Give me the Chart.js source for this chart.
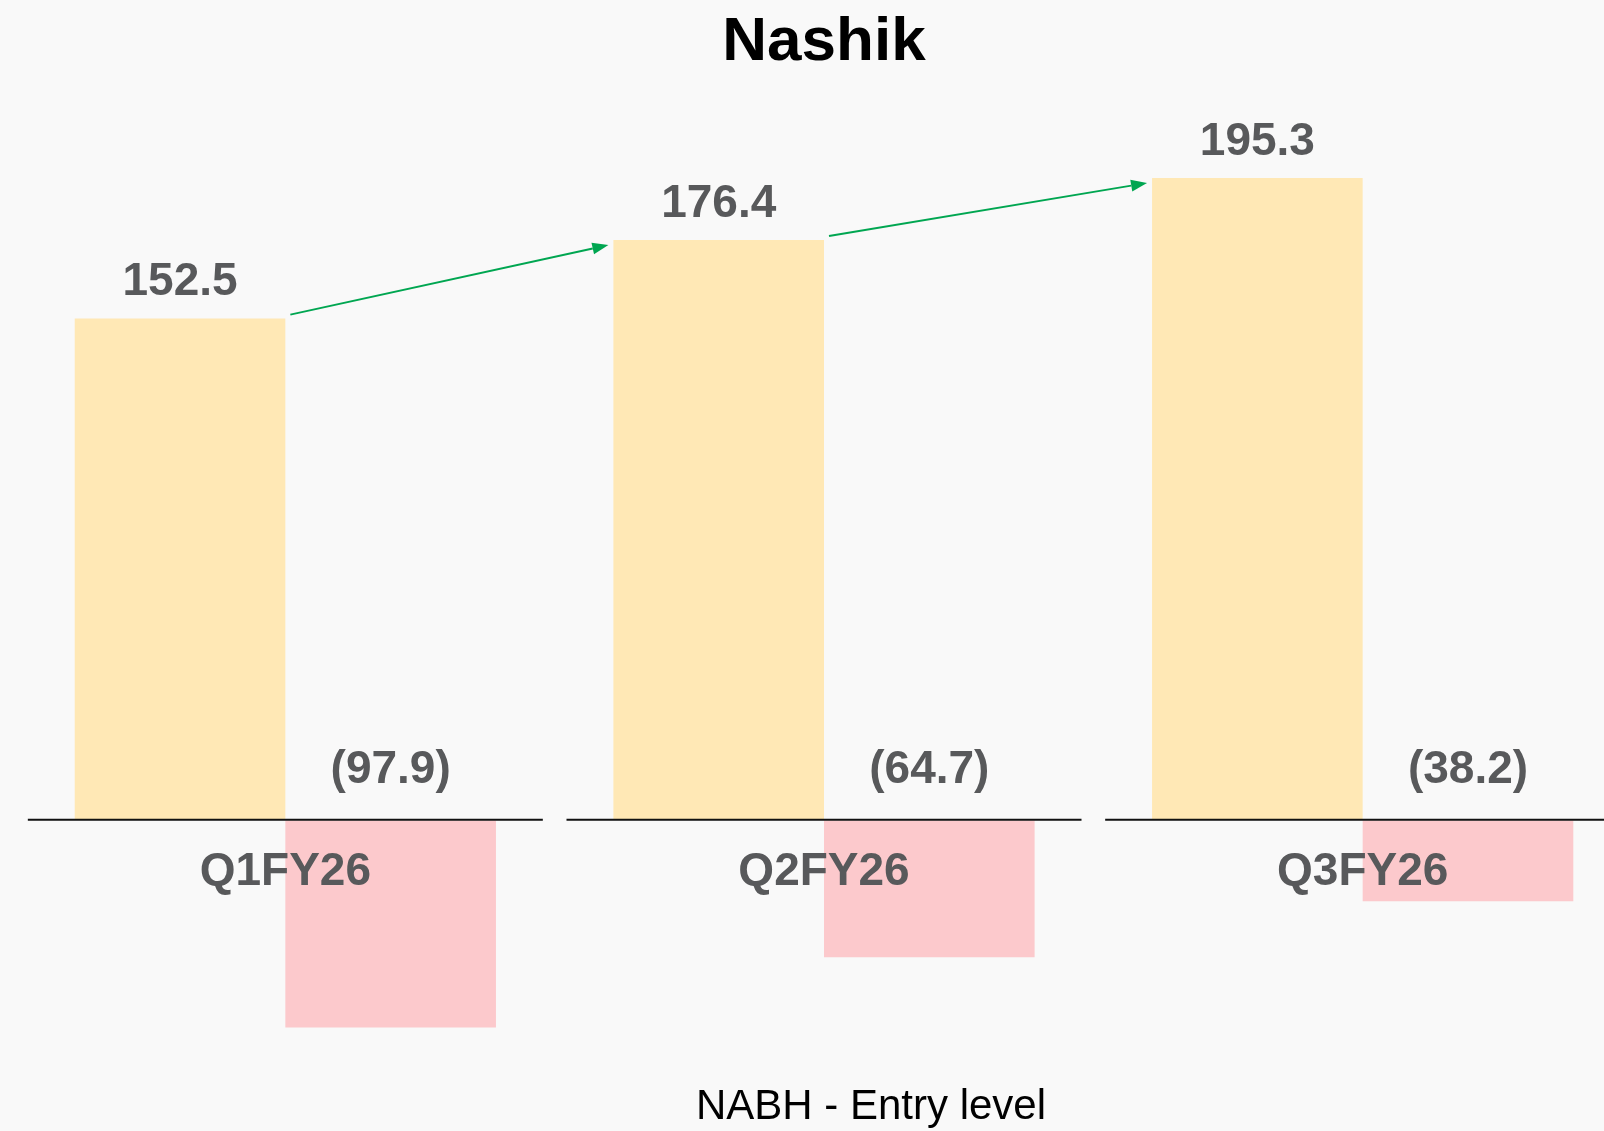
<!DOCTYPE html>
<html>
<head>
<meta charset="utf-8">
<script src="https://cdn.jsdelivr.net/npm/chart.js@4.4.1/dist/chart.umd.min.js"></script>
<style>
  html, body { margin: 0; padding: 0; overflow: hidden; background: #f9f9f9; }
  canvas { display: block; }
</style>
</head>
<body>
<canvas id="chart" width="1650" height="1131"></canvas>
<script>
// Nashik - revenue vs EBITDA by quarter
const quarters = ['Q1FY26', 'Q2FY26', 'Q3FY26'];
const revenue = [152.5, 176.4, 195.3];
const ebitda = [-97.9, -64.7, -38.2];

const titleText = 'Nashik';
const footnote = 'NABH - Entry level';

const textGrey = '#58595b';
const labelFont = 'bold 46px "Liberation Sans", Arial, sans-serif';

const fmt = v => v < 0 ? '(' + Math.abs(v).toFixed(1) + ')' : v.toFixed(1);

// value labels, per-quarter axis segments, growth arrows, footnote
const decorations = {
  id: 'decorations',
  afterDatasetsDraw(chart) {
    const ctx = chart.ctx;
    const x = chart.scales.x;
    const zeroY = chart.scales.y.getPixelForValue(0);
    const barsRev = chart.getDatasetMeta(0).data;
    const barsEb = chart.getDatasetMeta(1).data;

    ctx.save();
    // axis line split per category
    ctx.strokeStyle = '#111';
    ctx.lineWidth = 2;
    quarters.forEach((q, i) => {
      const cx = x.getPixelForValue(i);
      ctx.beginPath();
      ctx.moveTo(cx - 257.5, zeroY);
      ctx.lineTo(cx + 257.5, zeroY);
      ctx.stroke();
    });

    ctx.font = labelFont;
    ctx.fillStyle = textGrey;
    ctx.textAlign = 'center';
    ctx.textBaseline = 'middle';
    barsRev.forEach((b, i) => ctx.fillText(fmt(revenue[i]), b.x, b.y - 36));
    barsEb.forEach((b, i) => ctx.fillText(fmt(ebitda[i]), b.x, b.base - 50));

    // green arrows between revenue bars
    ctx.strokeStyle = '#00a651';
    ctx.fillStyle = '#00a651';
    ctx.lineWidth = 2;
    for (let i = 0; i < barsRev.length - 1; i++) {
      const a = barsRev[i], b = barsRev[i + 1];
      const x0 = a.x + a.width / 2 + 5, y0 = a.y - 4;
      const x1 = b.x - b.width / 2 - 5, y1 = b.y + 5;
      const ang = Math.atan2(y1 - y0, x1 - x0);
      const len = 16, hw = 6;
      const bx = x1 - len * Math.cos(ang), by = y1 - len * Math.sin(ang);
      ctx.beginPath();
      ctx.moveTo(x0, y0);
      ctx.lineTo(bx, by);
      ctx.stroke();
      ctx.beginPath();
      ctx.moveTo(x1, y1);
      ctx.lineTo(bx - hw * Math.sin(ang), by + hw * Math.cos(ang));
      ctx.lineTo(bx + hw * Math.sin(ang), by - hw * Math.cos(ang));
      ctx.closePath();
      ctx.fill();
    }

    ctx.font = '42px "Liberation Sans", Arial, sans-serif';
    ctx.fillStyle = '#000';
    ctx.fillText(footnote, 871, 1107);
    ctx.restore();
  }
};

new Chart(document.getElementById('chart'), {
  type: 'bar',
  data: {
    labels: quarters,
    datasets: [
      {
        label: 'Revenue',
        data: revenue,
        yAxisID: 'y',
        backgroundColor: '#ffe8b5',
        categoryPercentage: 0.782,
        barPercentage: 1.0,
      },
      {
        label: 'EBITDA',
        data: ebitda,
        yAxisID: 'y2',
        backgroundColor: '#fcc9cc',
        categoryPercentage: 0.782,
        barPercentage: 1.0,
      },
    ]
  },
  plugins: [decorations],
  options: {
    responsive: false,
    animation: false,
    layout: { padding: { left: 16, right: 18, top: 0, bottom: 60 } },
    plugins: {
      legend: { display: false },
      tooltip: { enabled: false },
      title: {
        display: true,
        text: titleText,
        color: '#000',
        font: { family: '"Liberation Sans", Arial, sans-serif', size: 62, weight: 'bold' },
        padding: { top: 6, bottom: 0 },
      },
    },
    scales: {
      x: {
        position: { y: 0 },
        grid: { display: false, drawTicks: false },
        border: { display: false },
        ticks: {
          z: 1,
          padding: 25,
          color: textGrey,
          font: { family: '"Liberation Sans", Arial, sans-serif', size: 46, weight: 'bold' },
        },
      },
      y: { display: false, min: -76.5, max: 225 },
      y2: { display: false, min: -118.5, max: 350 },
    },
  }
});
</script>
</body>
</html>
